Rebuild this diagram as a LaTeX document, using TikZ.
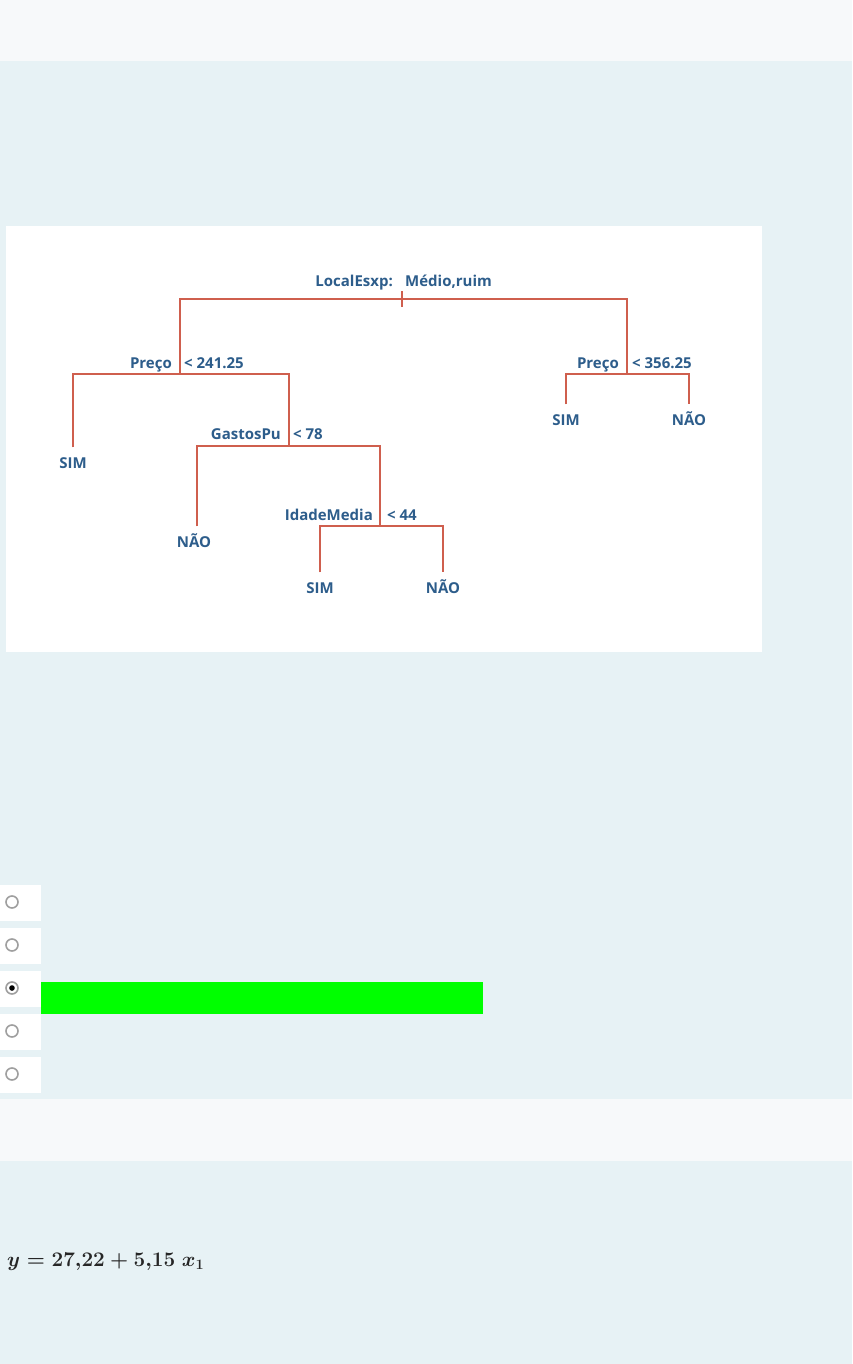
\documentclass[tikz,border=0pt]{standalone}
\usepackage{fontspec}
\usepackage{tikz}
\usetikzlibrary{positioning}
\newfontfamily\treefont{Open Sans}
\definecolor{PageBlue}{HTML}{E7F2F5}
\definecolor{BandGrey}{HTML}{F7F9FA}
\definecolor{TreeRed}{HTML}{CF5F4E}
\definecolor{TreeBlue}{HTML}{2D5D8B}
\definecolor{MarkGreen}{HTML}{00FF00}

\begin{document}
\begin{tikzpicture}[x=1pt, y=1pt,
				cond/.style={inner sep=0pt, text=TreeBlue,
					font=\treefont\fontsize{15}{18}\selectfont\bfseries},
				leaf/.style={cond, text height=11pt, text depth=0pt, inner ysep=10pt},
				branch/.style={draw=TreeRed, line width=1.8pt},
				radio/.style={draw=gray!75, line width=1.6pt, fill=white}
				]
				\useasboundingbox (0,0) rectangle (852,-1364);
				\fill[PageBlue] (0,0) rectangle (852,-1364);
				\fill[BandGrey] (0,0) rectangle (852,-61);
				\fill[BandGrey] (0,-1099) rectangle (852,-1161);
				\fill[white] (6,-226) rectangle (762,-652);

				\coordinate (root) at (402,-299);
				\coordinate (pr1) at (180,-374);
				\coordinate (pr2) at (627,-374);
				\coordinate (gas) at (289,-446);
				\coordinate (ida) at (380,-526);

				\node[cond, anchor=base east] (rootl) at ([xshift=-9pt,yshift=12.6pt]root) {LocalEsxp:};
				\node[cond, anchor=base west] (rootr) at ([xshift=3pt,yshift=12.6pt]root) {Médio,ruim};
				\node[cond, anchor=base east] (pr1l) at ([xshift=-8pt,yshift=6pt]pr1) {Preço};
				\node[cond, anchor=base west] (pr1r) at ([xshift=4pt,yshift=6pt]pr1) {< 241.25};
				\node[cond, anchor=base east] (pr2l) at ([xshift=-8pt,yshift=6pt]pr2) {Preço};
				\node[cond, anchor=base west] (pr2r) at ([xshift=5pt,yshift=6pt]pr2) {< 356.25};
				\node[cond, anchor=base east] (gasl) at ([xshift=-8pt,yshift=6.5pt]gas) {GastosPu};
				\node[cond, anchor=base west] (gasr) at ([xshift=4pt,yshift=6.5pt]gas) {< 78};
				\node[cond, anchor=base east] (idal) at ([xshift=-7pt,yshift=5.6pt]ida) {IdadeMedia};
				\node[cond, anchor=base west] (idar) at ([xshift=7pt,yshift=5.6pt]ida) {< 44};

				\node[leaf] (sim1) at (73,-463) {SIM};
				\node[leaf] (nao1) at (194,-542) {NÃO};
				\node[leaf] (sim2) at (320,-588) {SIM};
				\node[leaf] (nao2) at (443,-588) {NÃO};
				\node[leaf] (sim3) at (566,-420) {SIM};
				\node[leaf] (nao3) at (689,-420) {NÃO};

				\draw[branch] (pr1) |- (root) -| (pr2);
				\draw[branch] (root) ++(0,8) -- ++(0,-16);
				\draw[branch] (sim1.north) |- (pr1) -| (gas);
				\draw[branch] (sim3.north) |- (pr2) -| (nao3.north);
				\draw[branch] (nao1.north -| 197,0) |- (gas) -| (ida);
				\draw[branch] (sim2.north) |- (ida) -| (nao2.north);

				\foreach \t in {885,928,971,1014,1057} {
					\fill[white] (0,-\t) rectangle (41,-\t-36);
					\draw[radio] (12,-\t-17) circle (6);
				}
				\fill[black] (12,-988) circle (2.8);
				\fill[MarkGreen] (41,-982) rectangle (483,-1014);

				\node[anchor=west, inner sep=0pt, text=black!85,
					font=\fontsize{22}{26}\selectfont\boldmath] (eq) at (7,-1262) {$y = 27{,}22 + 5{,}15\;x_1$};
			\end{tikzpicture}
\end{document}
